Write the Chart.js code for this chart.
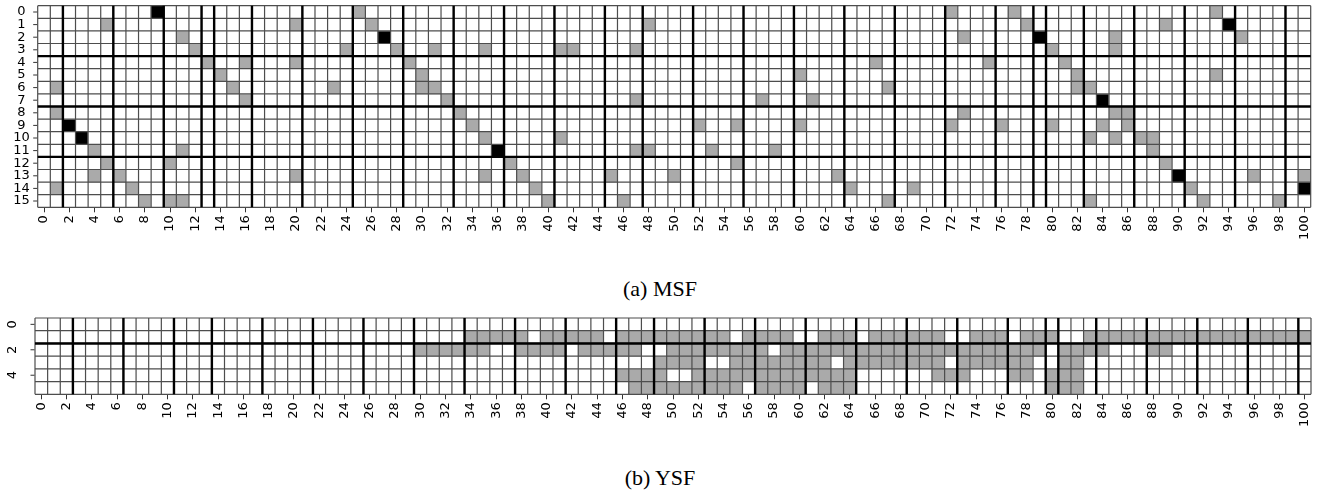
<!DOCTYPE html>
<html>
<head>
<meta charset="utf-8">
<title>MSF / YSF</title>
<script src="https://cdn.jsdelivr.net/npm/chart.js@4.4.1/dist/chart.umd.min.js"></script>
<style>
  body { margin: 0; background: #fff; width: 1320px; height: 490px; position: relative; overflow: hidden; }
  .box { position: absolute; left: 0; width: 1320px; }
  .cap { position: absolute; left: 0; width: 1320px; text-align: center; color: #000;
         font-family: "Liberation Serif", "DejaVu Serif", serif; font-size: 22px; line-height: 22px; }
</style>
</head>
<body>
<div class="box" style="top:0;height:250px"><canvas id="msf"></canvas></div>
<div class="cap" style="top:278px">(a) MSF</div>
<div class="box" style="top:312px;height:130px"><canvas id="ysf"></canvas></div>
<div class="cap" style="top:467px">(b) YSF</div>

<script>
// ── DATA ────────────────────────────────────────────────────────────
var COLS = ["0","1","2","3","4","5","6","7","8","9","10","11","12","13","14","15","16","17","18","19",
            "20","21","22","23","24","25","26","27","28","29","30","31","32","33","34","35","36","37","38","39",
            "40","41","42","43","44","45","46","47","48","49","50","51","52","53","54","55","56","57","58","59",
            "60","61","62","63","64","65","66","67","68","69","70","71","72","73","74","75","76","77","78","79",
            "80","81","82","83","84","85","86","87","88","89","90","91","92","93","94","95","96","97","98","99","100"];

// (a) MSF: 16 rows, gray / black cells listed by column per row
var MSF_ROWS = [0,1,2,3,4,5,6,7,8,9,10,11,12,13,14,15];
var MSF_GRAY = [
    [25, 72, 77, 93],
    [5, 20, 26, 48, 78, 89],
    [11, 73, 85, 95],
    [12, 24, 28, 31, 35, 41, 42, 47, 80, 85],
    [13, 16, 20, 29, 66, 75, 81],
    [14, 30, 60, 82, 93],
    [1, 15, 23, 30, 31, 67, 82, 83],
    [16, 32, 47, 57, 61],
    [1, 33, 73, 85, 86],
    [34, 52, 55, 60, 72, 76, 80, 84, 86],
    [35, 41, 83, 85, 87, 88],
    [4, 11, 47, 48, 53, 58, 88],
    [5, 10, 37, 55, 89],
    [4, 6, 20, 35, 38, 45, 50, 63, 96, 100],
    [1, 7, 39, 64, 69, 91],
    [8, 10, 11, 40, 46, 67, 83, 92, 98]
];
var MSF_BLACK = [[9], [94], [27, 79], [], [], [], [], [84], [], [2], [3], [36], [], [90], [100], []];
var MSF_YTICKS = [0,1,2,3,4,5,6,7,8,9,10,11,12,13,14,15];
var MSF_VBREAKS = [2, 6, 10, 13, 14, 17, 21, 25, 29, 33, 37, 41, 45, 48, 52, 56, 60, 64, 68, 72, 76, 79, 80, 83, 87, 91, 95, 99];
var MSF_HBREAKS = [4, 8, 12];

// (b) YSF: 6 rows
var YSF_ROWS = [0,1,2,3,4,5];
var YSF_GRAY = [
    [],
    [34,35,36,37,38,40,41,42,43,44,46,47,48,49,50,51,52,53,54,56,57,58,59,62,63,64,66,67,68,69,70,71,
     74,75,76,78,79,80,83,84,85,86,87,88,89,90,91,92,93,94,95,96,97,98,99,100],
    [30,31,32,33,34,35,38,39,40,41,43,44,45,46,47,50,51,52,53,54,55,56,57,59,60,61,62,63,64,65,66,67,
     68,69,70,71,72,73,74,75,76,77,78,79,81,82,83,84,88,89],
    [49,50,51,52,55,56,57,58,59,60,61,62,64,65,66,67,68,69,70,71,73,74,75,76,77,78,81,82],
    [46,47,48,49,52,53,54,55,56,57,58,59,60,61,62,63,64,71,72,73,77,78,80,81,82],
    [47,48,49,50,51,52,53,54,55,57,58,59,60,62,63,64,80,81,82]
];
var YSF_BLACK = [[], [], [], [], [], []];
var YSF_YTICKS = [0, 2, 4];
var YSF_VBREAKS = [3, 7, 11, 14, 18, 22, 26, 30, 34, 38, 42, 46, 49, 53, 57, 61, 65, 69, 73, 77, 80, 81, 84, 88, 92, 96, 100];
var YSF_HBREAKS = [2];

// ── STYLE ───────────────────────────────────────────────────────────
var WHITE = "#ffffff";
var GRAY = "#aaaaaa";
var BLACK = "#000000";
var FONT = "'DejaVu Sans', sans-serif";

// ── GRID / LABEL PLUGIN ─────────────────────────────────────────────
var cellGrid = {
    id: "cellGrid",
    afterDatasetsDraw: function (chart, args, o) {
        var ctx = chart.ctx, xs = chart.scales.x, ys = chart.scales.y;
        var half = (xs.getPixelForValue(1) - xs.getPixelForValue(0)) / 2;
        var n = o.rows.length;
        var x0 = xs.getPixelForValue(0) - half;
        var x1 = xs.getPixelForValue(COLS.length - 1) + half;
        var y0 = ys.getPixelForValue(-0.5);
        var y1 = ys.getPixelForValue(n - 0.5);
        var c, r, x, y;
        ctx.save();
        // thin cell borders
        ctx.strokeStyle = "#4d4d4d";
        ctx.lineWidth = 1.2;
        ctx.beginPath();
        for (c = 0; c <= COLS.length; c++) {
            x = xs.getPixelForValue(c) - half;
            ctx.moveTo(x, y0); ctx.lineTo(x, y1);
        }
        for (r = 0; r <= n; r++) {
            y = ys.getPixelForValue(r - 0.5);
            ctx.moveTo(x0, y); ctx.lineTo(x1, y);
        }
        ctx.stroke();
        // thick group borders
        ctx.strokeStyle = "#000";
        ctx.lineWidth = 2.4;
        ctx.beginPath();
        o.vBreaks.forEach(function (b) {
            var bx = xs.getPixelForValue(b) - half;
            ctx.moveTo(bx, y0); ctx.lineTo(bx, y1);
        });
        o.hBreaks.forEach(function (b) {
            var by = ys.getPixelForValue(b - 0.5);
            ctx.moveTo(x0, by); ctx.lineTo(x1, by);
        });
        ctx.stroke();
        // y ticks + labels
        ctx.strokeStyle = "#333";
        ctx.lineWidth = 1;
        ctx.fillStyle = "#000";
        ctx.font = "13px " + FONT;
        ctx.textAlign = "center";
        ctx.textBaseline = "middle";
        o.yTicks.forEach(function (v) {
            var ty = ys.getPixelForValue(v);
            ctx.beginPath();
            ctx.moveTo(x0 - o.tickLen, ty); ctx.lineTo(x0 - 0.5, ty);
            ctx.stroke();
            ctx.save();
            ctx.translate(o.labelX, ty);
            if (o.rotate) ctx.rotate(-Math.PI / 2);
            ctx.fillText(String(v), 0, 0);
            ctx.restore();
        });
        ctx.restore();
    }
};

// ── BUILD A HEATMAP ─────────────────────────────────────────────────
function makeHeatmap(id, rows, gray, black, cfg) {
    var datasets = [];
    for (var i = 0; i < rows.length; i++) {
        var r = rows[i];
        var colors = [];
        var spans = [];
        for (var c = 0; c < COLS.length; c++) {
            var col = WHITE;
            if (gray[i].indexOf(c) >= 0) col = GRAY;
            if (black[i].indexOf(c) >= 0) col = BLACK;
            colors.push(col);
            spans.push([r - 0.5, r + 0.5]);
        }
        datasets.push({
            data: spans,
            backgroundColor: colors,
            borderWidth: 0,
            grouped: false,
            barPercentage: 1,
            categoryPercentage: 1
        });
    }
    return new Chart(document.getElementById(id), {
        type: "bar",
        data: { labels: COLS, datasets: datasets },
        options: {
            responsive: true,
            maintainAspectRatio: false,
            animation: false,
            events: [],
            layout: { padding: { top: cfg.padTop, left: cfg.padLeft, right: cfg.padRight, bottom: 0 } },
            plugins: {
                legend: { display: false },
                tooltip: { enabled: false },
                cellGrid: {
                    rows: rows, vBreaks: cfg.vBreaks, hBreaks: cfg.hBreaks,
                    yTicks: cfg.yTicks, labelX: cfg.labelX, tickLen: cfg.tickLen, rotate: cfg.rotate
                }
            },
            scales: {
                x: {
                    type: "category",
                    offset: true,
                    border: { display: false },
                    grid: {
                        offset: false,
                        drawOnChartArea: false,
                        drawTicks: true,
                        tickLength: 5,
                        tickWidth: 1,
                        tickColor: function (ctx) { return ctx.index % 2 === 0 ? "#333" : "rgba(0,0,0,0)"; }
                    },
                    ticks: {
                        autoSkip: false,
                        minRotation: 90,
                        maxRotation: 90,
                        padding: 3,
                        color: "#000",
                        font: { family: FONT, size: 13 },
                        callback: function (v, i) { return i % 2 === 0 ? COLS[i] : ""; }
                    },
                    afterFit: function (s) { s.height = cfg.axisH; s.paddingLeft = 0; s.paddingRight = 0; }
                },
                y: {
                    type: "linear",
                    display: false,
                    reverse: true,
                    min: -0.5,
                    max: rows.length - 0.5
                }
            }
        },
        plugins: [cellGrid]
    });
}

// ── START ───────────────────────────────────────────────────────────
makeHeatmap("msf", MSF_ROWS, MSF_GRAY, MSF_BLACK, {
    padTop: 5.7, padLeft: 37.7, padRight: 9.3, axisH: 42.7,
    vBreaks: MSF_VBREAKS, hBreaks: MSF_HBREAKS, yTicks: MSF_YTICKS, labelX: 21.5, tickLen: 4.5, rotate: false
});
makeHeatmap("ysf", YSF_ROWS, YSF_GRAY, YSF_BLACK, {
    padTop: 6, padLeft: 35, padRight: 9, axisH: 47.7,
    vBreaks: YSF_VBREAKS, hBreaks: YSF_HBREAKS, yTicks: YSF_YTICKS, labelX: 12.5, tickLen: 4.5, rotate: true
});
</script>
</body>
</html>
